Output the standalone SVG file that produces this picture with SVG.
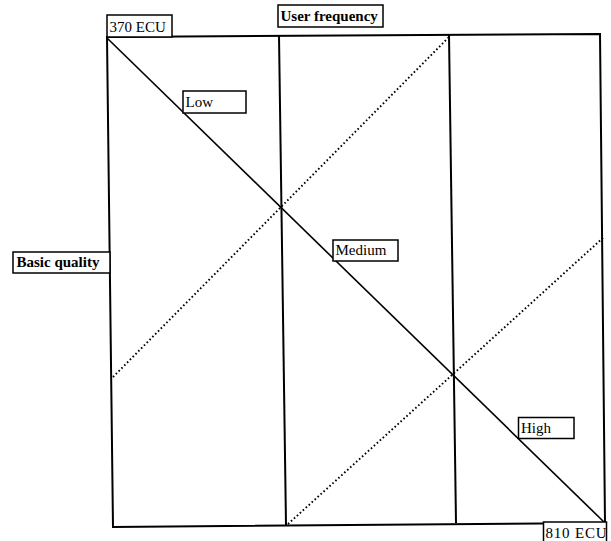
<svg xmlns="http://www.w3.org/2000/svg" width="611" height="541" viewBox="0 0 611 541">
<style>
.frame{fill:none;stroke:#000;stroke-width:2}
.solid{stroke:#000;stroke-width:1.6;fill:none}
.dot{stroke:#000;stroke-width:1.9;fill:none;stroke-dasharray:1.6 2.4}
.box{fill:#fff;stroke:#000;stroke-width:1.5}
.t{font-family:"Liberation Serif","Times New Roman",serif;font-size:15px;fill:#000}
.b{font-weight:bold}
</style>
<rect width="611" height="541" fill="#fff"/>
<g id="connectors">
<polygon class="frame" points="107,37 600,34 605,523 113,527"/>
<line class="frame" x1="279" y1="36" x2="286" y2="525"/>
<line class="frame" x1="449" y1="35" x2="456" y2="523"/>
<line class="solid" x1="107" y1="38" x2="605" y2="523"/>
<line class="dot" x1="113" y1="377" x2="449" y2="37"/>
<line class="dot" x1="288" y1="524" x2="604" y2="237"/>
</g>
<g id="n370"><rect class="box" x="107" y="15" width="65" height="22"/><text class="t" x="109.5" y="31.5">370 ECU</text></g>
<g id="nuser"><rect class="box" x="278" y="5" width="105" height="22"/><text class="t b" x="280.5" y="20.5">User frequency</text></g>
<g id="nlow"><rect class="box" x="183" y="91" width="63" height="22"/><text class="t" x="185.5" y="107">Low</text></g>
<g id="nbasic"><rect class="box" x="13" y="252" width="97" height="21"/><text class="t b" x="16.5" y="266.5">Basic quality</text></g>
<g id="nmedium"><rect class="box" x="333" y="240" width="65" height="21"/><text class="t" x="335.5" y="255">Medium</text></g>
<g id="nhigh"><rect class="box" x="518.5" y="417.5" width="55.5" height="21"/><text class="t" x="521" y="433">High</text></g>
<g id="n810"><rect class="box" x="543.5" y="522" width="63" height="22"/><text class="t" x="545.5" y="537.5" letter-spacing="0.8">810 ECU</text></g>
</svg>
